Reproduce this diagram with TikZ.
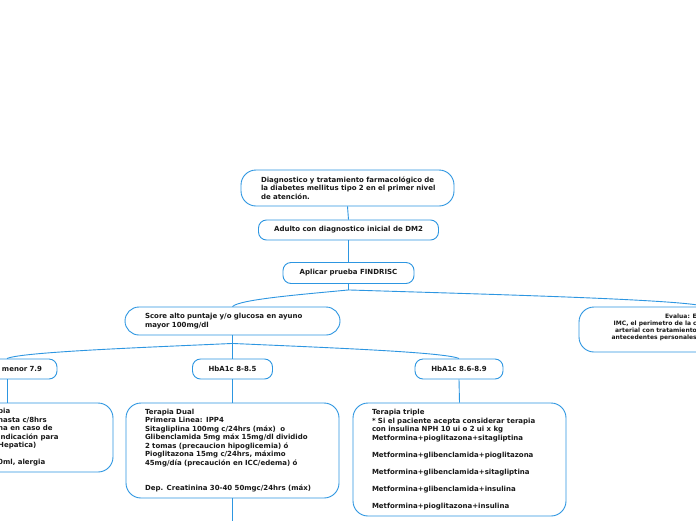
\documentclass[tikz,border=0pt]{standalone}
\usepackage{fontspec}
\setmainfont{DejaVu Sans}
\usetikzlibrary{calc}
\definecolor{mmblue}{RGB}{45,150,225}
\definecolor{mmtext}{RGB}{25,25,25}
\begin{document}
\begin{tikzpicture}[x=1pt,y=-1pt,
  every node/.style={font=\fontsize{7}{8.5}\selectfont\bfseries, text=mmtext},
  box/.style={draw=mmblue, line width=0.9pt, fill=white, rounded corners=#1, inner sep=0pt},
  box/.default=8pt,
  pill/.style={box=8pt, minimum height=20pt},
  panel/.style={box=15pt, align=left, text width=175pt, inner xsep=19pt},
  conn/.style={draw=mmblue, line width=0.9pt},
  branch/.style={to path={let \p1=(\tikztostart), \p2=(\tikztotarget) in
     .. controls ({\x1+0.37*(\x2-\x1)},{\y1+0.25*(\y2-\y1)})
     and ({\x2-0.06*(\x2-\x1)},{\y2-0.44*(\y2-\y1)}) .. (\tikztotarget)}}
]
\useasboundingbox (0,0) rectangle (696,520);
\fill[white] (0,0) rectangle (696,520);

% nodes
\node[box=15pt, minimum width=213pt, minimum height=36pt, align=left, text width=173pt, inner xsep=20pt] (title) at (347.5,188)
  {\mbox{Diagnostico y tratamiento farmacológico de}\\\mbox{la diabetes mellitus tipo 2 en el primer nivel}\\de atención.};
\node[pill, minimum width=180pt] (adulto) at (348.5,230) {Adulto con diagnostico inicial de DM2};
\node[pill, minimum width=131pt, minimum height=21pt] (find) at (348.5,273) {Aplicar prueba FINDRISC};
\node[box=14pt, minimum height=28pt, align=left, text width=175pt, inner xsep=20pt] (score) at (232.5,321)
  {\mbox{Score alto puntaje y/o glucosa en ayuno}\\mayor 100mg/dl};
\node[box=15pt, minimum width=252pt, minimum height=45pt] (eval) at (705,329.5) {};
\node[font=\fontsize{6}{7}\selectfont\bfseries, align=right, anchor=east, inner sep=0pt] (evaltext) at (697,327.5)
  {Evalua: E\\IMC, el perimetro de la c\\arterial con tratamiento\\antecedentes personales};

\node[pill, text width=70pt, align=right, inner xsep=15pt] (menor) at (7,369) {menor 7.9};
\node[pill, minimum width=80pt] (hb2) at (232.5,369) {HbA1c 8-8.5};
\node[pill, minimum width=88pt] (hb3) at (459,369) {HbA1c 8.6-8.9};

\node[box=15pt, minimum width=212pt, minimum height=69pt] (mono) at (7,437.5) {};
\node[align=left, anchor=west, inner sep=0pt] (monotext) at (-2,437.5)
  {pia\\hasta c/8hrs\\na en caso de\\indicación para\\Hepatica)\\[8.5pt]0ml, alergia};

\node[panel, minimum height=95pt] (dual) at (232.5,450.5)
  {Terapia Dual\\Primera Linea: IPP4\\\mbox{Sitagliplina 100mg c/24hrs (máx)\ \ o}\\\mbox{Glibenclamida 5mg máx 15mg/dl dividido}\\\mbox{2 tomas (precaucion hipoglicemia) ó}\\\mbox{Pioglitazona 15mg c/24hrs, máximo}\\\mbox{45mg/día (precaución en ICC/edema) ó}\\[17pt]\mbox{Dep. Creatinina 30-40 50mgc/24hrs (máx)}};

\node[panel, minimum height=113pt] (triple) at (459.5,459.5)
  {Terapia triple\\\mbox{* Si el paciente acepta considerar terapia}\\\mbox{con insulina NPH 10 ui o 2 ui x kg}\\Metformina+pioglitazona+sitagliptina\\[8.5pt]Metformina+glibenclamida+pioglitazona\\[8.5pt]Metformina+glibenclamida+sitagliptina\\[8.5pt]Metformina+glibenclamida+insulina\\[8.5pt]Metformina+pioglitazona+insulina};

% connectors
\coordinate (j1) at ($(find.south)+(0,6)$);
\coordinate (j2) at ($(score.south)+(0,8)$);
\coordinate (below) at (232.5,530);

\draw[conn] (title.south) -- (adulto.north);
\draw[conn] (adulto.south) -- (find.north);
\draw[conn] (find.south) -- (j1);
\draw[conn] (j1) to[branch] (score.north);
\draw[conn] (j1) to[branch] (eval.north);
\draw[conn] (score.south) -- (j2) -- (hb2.north);
\draw[conn] (j2) to[branch] (menor.north);
\draw[conn] (j2) to[branch] (hb3.north);
\draw[conn] (menor.south) -- (mono.north);
\draw[conn] (hb2.south) -- (dual.north);
\draw[conn] (hb3.south) -- (triple.north);
\draw[conn] (dual.south) -- (below);
\end{tikzpicture}
\end{document}
